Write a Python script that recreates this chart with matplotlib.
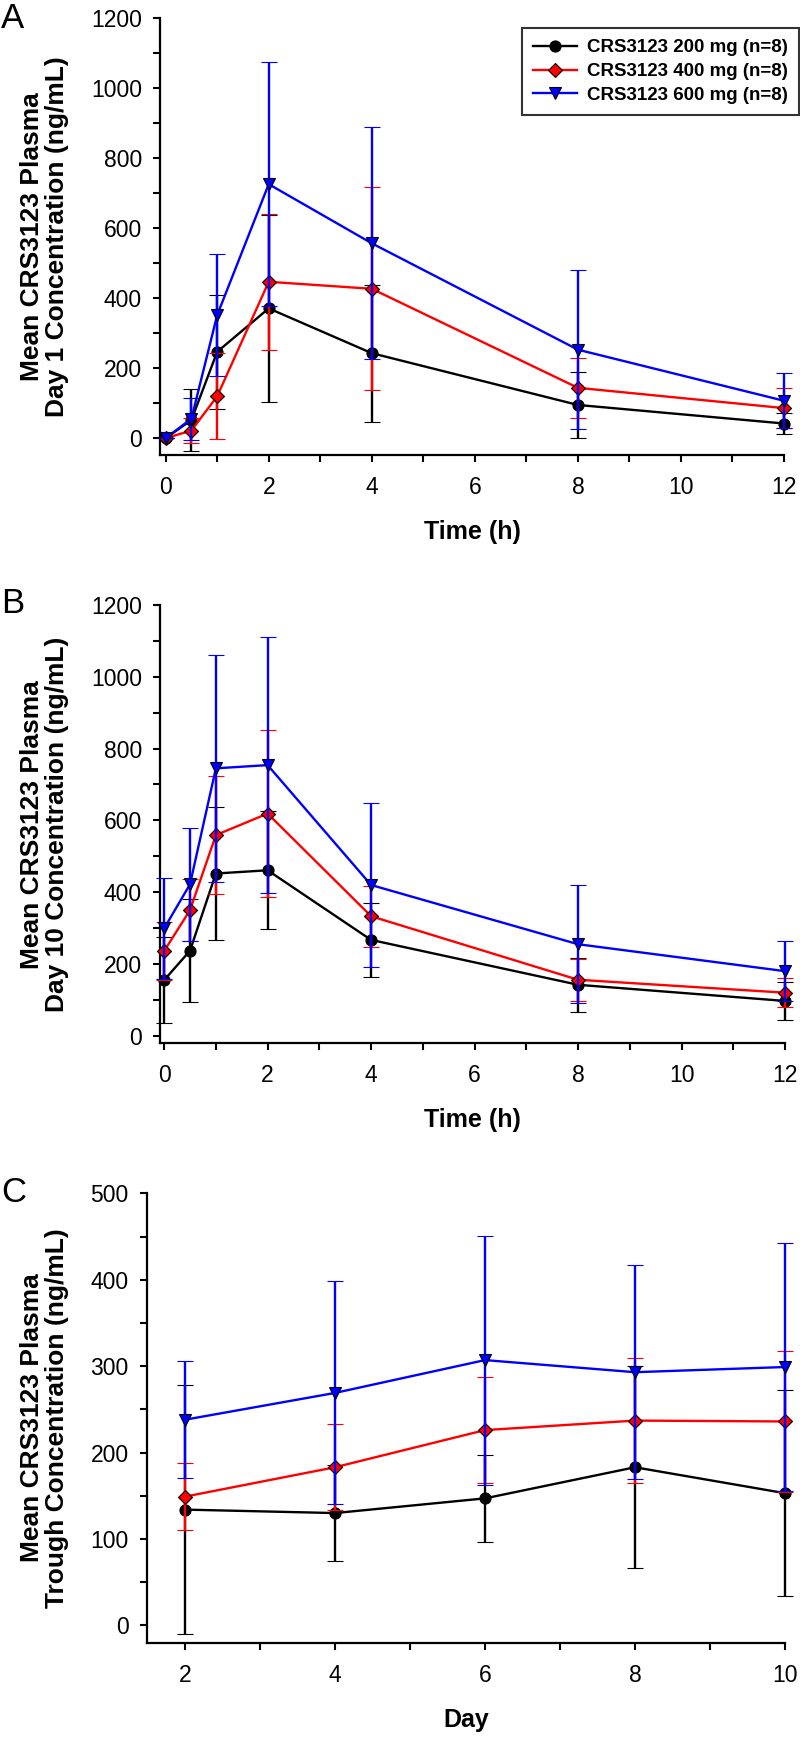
import numpy as np
import matplotlib.pyplot as plt
from matplotlib.ticker import MultipleLocator
from matplotlib.lines import Line2D

plt.rcParams['font.family'] = ['Liberation Sans', 'DejaVu Sans']

# panel A: day 1 profile
time_h = [0, 0.5, 1, 2, 4, 8, 12]
day1_200 = [0, 52, 247, 371, 243, 95, 42]
day1_200_sd = [0, 88, 163, 267, 196, 95, 30]
day1_400 = [0, 22, 120, 447, 427, 144, 86]
day1_400_sd = [0, 37, 123, 195, 290, 86, 58]
day1_600 = [0, 56, 352, 726, 557, 253, 107]
day1_600_sd = [0, 60, 174, 348, 332, 228, 78]

# panel B: day 10 profile
day10_200 = [155, 237, 452, 461, 267, 142, 97]
day10_200_sd = [120, 144, 186, 164, 102, 76, 54]
day10_400 = [236, 350, 559, 619, 333, 156, 120]
day10_400_sd = [82, 87, 164, 232, 85, 59, 41]
day10_600 = [299, 422, 745, 754, 420, 255, 180]
day10_600_sd = [140, 157, 317, 356, 229, 165, 84]

# panel C: trough
days = [2, 4, 6, 8, 10]
trough_200 = [134, 130, 147, 183, 153]
trough_200_sd = [144, 56, 50, 117, 119]
trough_400 = [149, 183, 226, 237, 236]
trough_400_sd = [39, 50, 61, 72, 82]
trough_600 = [238, 269, 307, 293, 299]
trough_600_sd = [68, 129, 144, 124, 143]

labels = ['CRS3123 200 mg (n=8)', 'CRS3123 400 mg (n=8)', 'CRS3123 600 mg (n=8)']
colors = ['black', '#ff0000', '#0000ff']
markers = ['o', 'D', 'v']
msizes = [8, 7.5, 8.5]

W, H = 800, 1737
fig = plt.figure(figsize=(W / 100, H / 100), dpi=100)


def make_axes(left, top, right, bottom):
    return fig.add_axes([left / W, 1 - bottom / H, (right - left) / W, (bottom - top) / H])


def series(ax, x, ys, sds):
    for i, (y, sd) in enumerate(zip(ys, sds)):
        ax.errorbar(x, y, yerr=sd, color=colors[i], marker=markers[i], ms=msizes[i],
                    mfc=colors[i], mec='black', mew=0.8, lw=1.7, elinewidth=1.7,
                    capsize=5.5, capthick=1.7, zorder=2 + i, clip_on=False)


def style(ax, xlabel, ylabel, x_major, x_minor, y_major, y_minor, label_px):
    for s in ['top', 'right']:
        ax.spines[s].set_visible(False)
    for s in ['left', 'bottom']:
        ax.spines[s].set_linewidth(1.6)
    ax.xaxis.set_major_locator(MultipleLocator(x_major))
    ax.xaxis.set_minor_locator(MultipleLocator(x_minor))
    ax.yaxis.set_major_locator(MultipleLocator(y_major))
    ax.yaxis.set_minor_locator(MultipleLocator(y_minor))
    ax.tick_params(which='both', direction='out', width=1.5, length=5)
    ax.tick_params(axis='x', which='major', labelsize=16.5, pad=10)
    ax.tick_params(axis='y', which='major', labelsize=16.5, pad=8)
    ax.set_xlabel(xlabel, fontsize=18, fontweight='bold', va='center')
    ax.set_ylabel(ylabel, fontsize=19, fontweight='bold', linespacing=1.05)
    bb = ax.get_position()
    h_px = bb.height * H
    w_px = bb.width * W
    left_px = bb.x0 * W
    ax.xaxis.set_label_coords(0.5, -77 / h_px)
    ax.yaxis.set_label_coords((label_px - left_px) / w_px, 0.5)


# A
axA = make_axes(160, 18.3, 784, 455)
series(axA, time_h, [day1_200, day1_400, day1_600], [day1_200_sd, day1_400_sd, day1_600_sd])
axA.set_xlim(-0.11, 12)
axA.set_ylim(-48, 1200)
style(axA, 'Time (h)', 'Mean CRS3123 Plasma\nDay 1 Concentration (ng/mL)', 2, 1, 200, 100, 69)

# B
axB = make_axes(160, 605, 785, 1043.3)
series(axB, time_h, [day10_200, day10_400, day10_600], [day10_200_sd, day10_400_sd, day10_600_sd])
axB.set_xlim(-0.08, 12)
axB.set_ylim(-21, 1200)
style(axB, 'Time (h)', 'Mean CRS3123 Plasma\nDay 10 Concentration (ng/mL)', 2, 1, 200, 100, 69)

# C
axC = make_axes(146.7, 1193.3, 785, 1642.7)
series(axC, days, [trough_200, trough_400, trough_600], [trough_200_sd, trough_400_sd, trough_600_sd])
axC.set_xlim(1.49, 10)
axC.set_ylim(-20, 500)
style(axC, 'Day', 'Mean CRS3123 Plasma\nTrough Concentration (ng/mL)', 2, 1, 100, 50, 69)

# panel letters
for letter, ypx in [('A', 18), ('B', 604), ('C', 1192)]:
    fig.text(1 / W, 1 - ypx / H, letter, fontsize=25, ha='left', va='center')

handles = [Line2D([], [], color=colors[i], marker=markers[i], ms=msizes[i], mfc=colors[i],
                  mec='black', mew=0.8, lw=1.7) for i in range(3)]
leg = fig.legend(handles, labels, loc='upper right', bbox_to_anchor=(799 / W, 1 - 28 / H),
                 prop={'size': 13.5, 'weight': 'bold'}, frameon=True, fancybox=False,
                 edgecolor='#333333', framealpha=1, handlelength=2.3, handletextpad=0.55,
                 labelspacing=0.35, borderpad=0.6, borderaxespad=0)
leg.get_frame().set_linewidth(1.5)

fig.savefig('out.png', dpi=100)
